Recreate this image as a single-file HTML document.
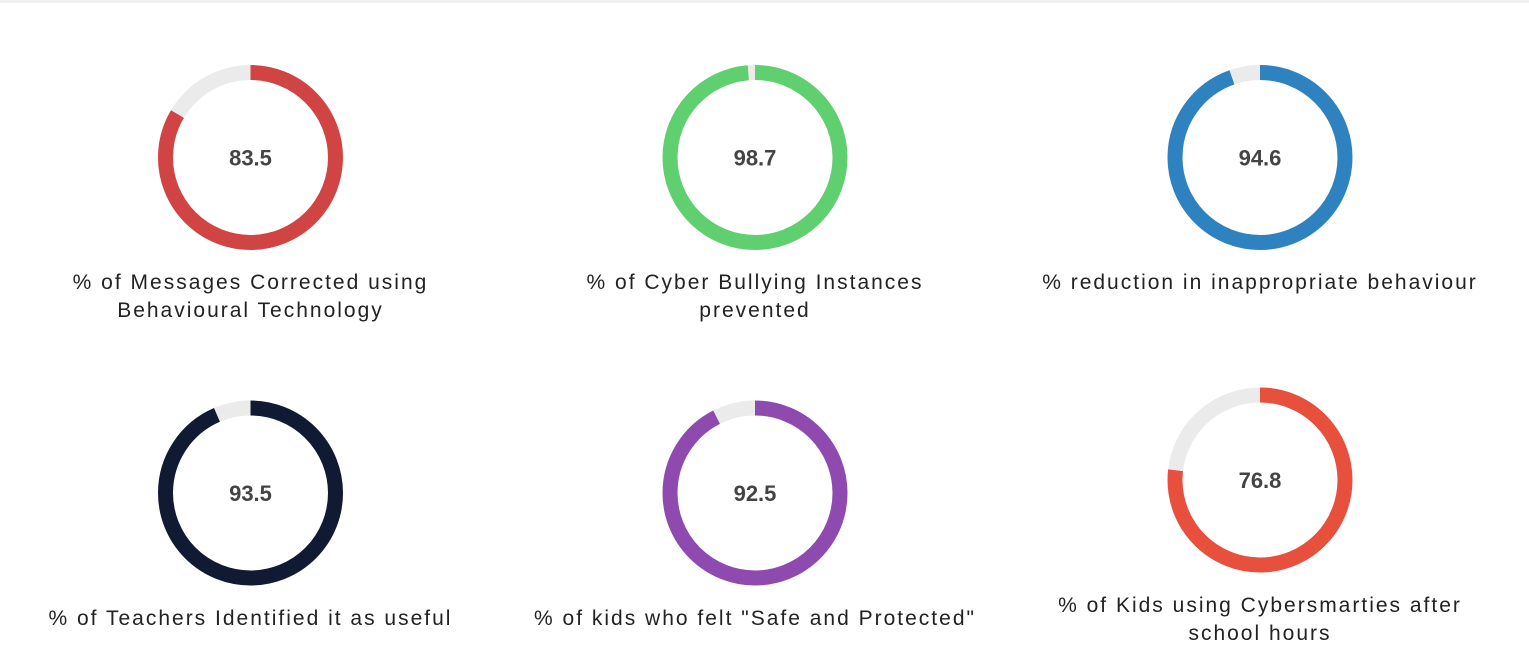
<!DOCTYPE html>
<html><head><meta charset="utf-8"><style>
body{margin:0;background:#fff;width:1529px;height:670px;overflow:hidden;font-family:"Liberation Sans",sans-serif;}
.top{position:absolute;left:0;top:0;width:1529px;height:3px;background:#f0f0f0;}
</style></head><body>
<div class="top"></div>
<svg id="chart" width="1529" height="670" style="position:absolute;left:0;top:0"></svg>
<script>
const values=[83.5,98.7,94.6,93.5,92.5,76.8];
const labels=[["% of Messages Corrected using","Behavioural Technology"],["% of Cyber Bullying Instances","prevented"],["% reduction in inappropriate behaviour"],["% of Teachers Identified it as useful"],["% of kids who felt \"Safe and Protected\""],["% of Kids using Cybersmarties after","school hours"]];
const colors=["#d04444","#5fcf6f","#2e82c0","#111a33","#8e4aae","#e8503e"];
const svg=document.getElementById('chart');
const NS='http://www.w3.org/2000/svg';
const cxs=[250.5,755,1260];
const layout=[[157.5,282],[157.5,282],[157.5,282],[493,618],[493,618],[480,605]];
const R=85,SW=15,C=2*Math.PI*R;
values.forEach((v,i)=>{
  const cx=cxs[i%3],cy=layout[i][0],ly=layout[i][1];
  const g=document.createElementNS(NS,'g');
  
  
  const t=document.createElementNS(NS,'circle');
  t.setAttribute('cx',cx);t.setAttribute('cy',cy);t.setAttribute('r',R);
  t.setAttribute('fill','none');t.setAttribute('stroke','#ebebeb');t.setAttribute('stroke-width',SW);
  
  
  g.appendChild(t);
  const a=document.createElementNS(NS,'circle');
  a.setAttribute('cx',cx);a.setAttribute('cy',cy);a.setAttribute('r',R);
  a.setAttribute('fill','none');a.setAttribute('stroke',colors[i]);a.setAttribute('stroke-width',SW);
  a.setAttribute('stroke-dasharray',(C*v/100)+' '+C);
  a.setAttribute('transform','rotate(-90 '+cx+' '+cy+')');
  
  
  g.appendChild(a);
  const vt=document.createElementNS(NS,'text');
  vt.setAttribute('x',cx);vt.setAttribute('y',cy+8);vt.setAttribute('text-anchor','middle');
  vt.setAttribute('font-size','22');vt.setAttribute('font-weight','bold');vt.setAttribute('fill','#444');
  vt.setAttribute('font-family','Liberation Sans, sans-serif');
  vt.textContent=v;
  
  
  g.appendChild(vt);
  labels[i].forEach((line,j)=>{
    const lt=document.createElementNS(NS,'text');
    lt.setAttribute('x',cx);lt.setAttribute('y',ly+7+j*28);lt.setAttribute('text-anchor','middle');
    lt.setAttribute('font-size','21');lt.setAttribute('fill','#222');lt.setAttribute('letter-spacing','2');
    lt.setAttribute('font-family','Liberation Sans, sans-serif');
    lt.textContent=line;
    
    
    g.appendChild(lt);
  });
  svg.appendChild(g);
});
</script>
</body></html>
